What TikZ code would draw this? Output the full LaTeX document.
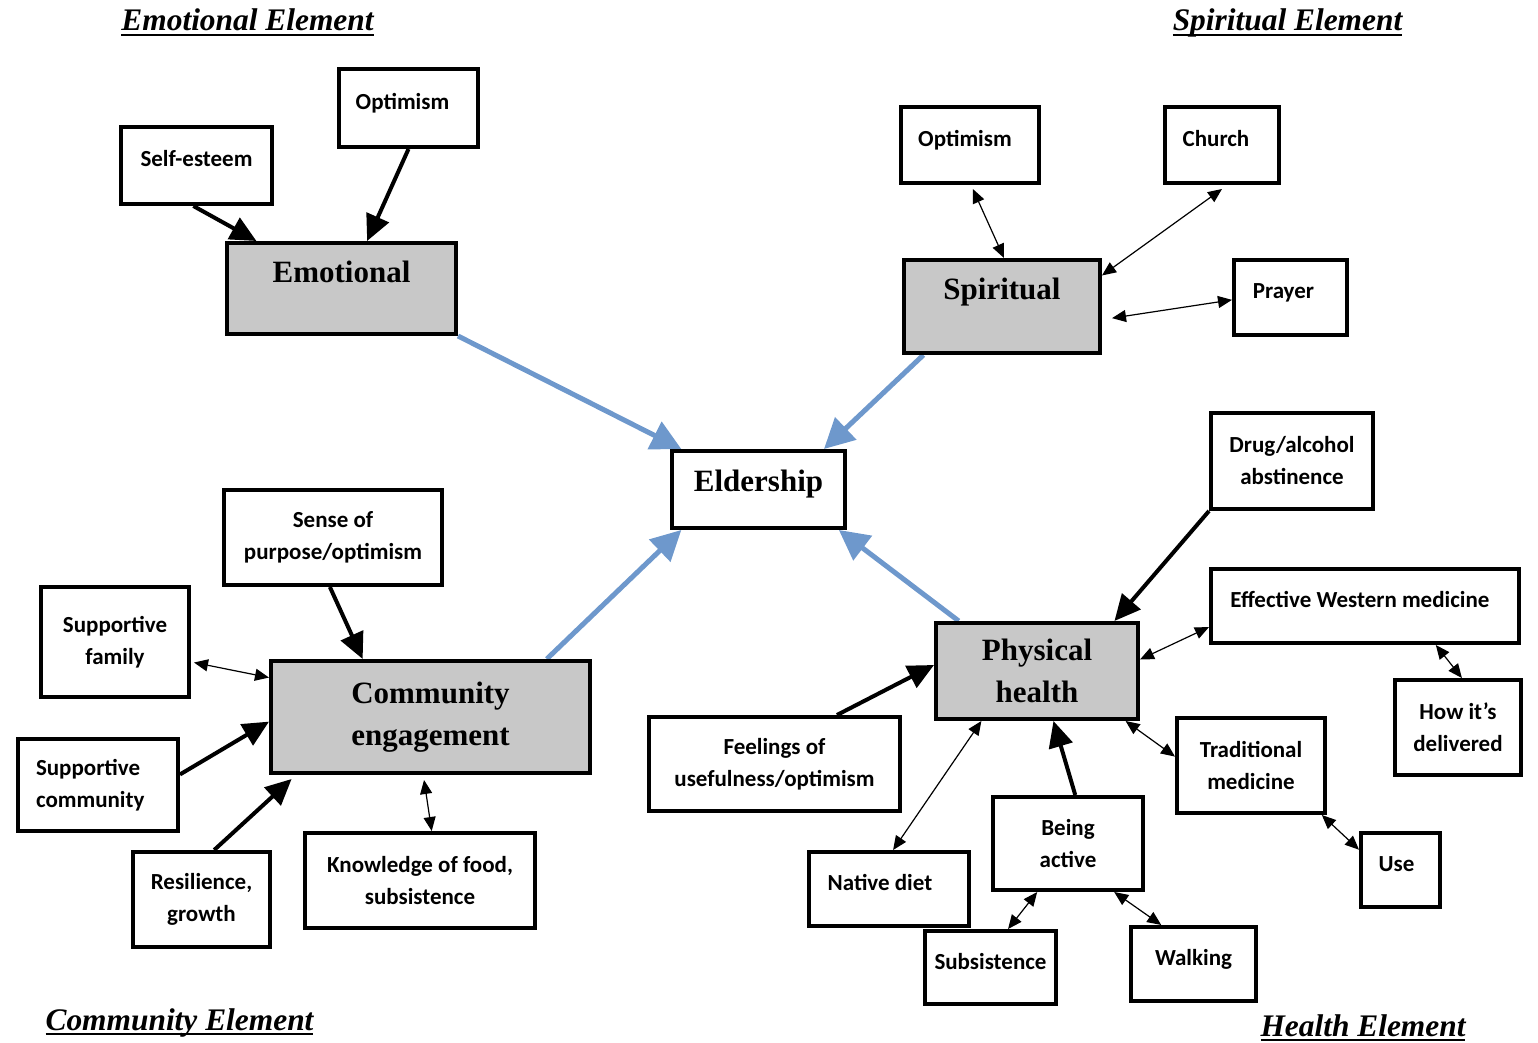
\documentclass[tikz,border=0pt]{standalone}
\usepackage{fontspec}
\setmainfont{Liberation Serif}
\newfontfamily\calfont{Carlito}
\usetikzlibrary{arrows.meta,calc,backgrounds}
\definecolor{boxgray}{RGB}{200,200,200}
\definecolor{arrowblue}{RGB}{110,152,204}
\newcommand\myul[1]{\setbox0\hbox{#1}\rlap{\rule[-2.6pt]{\wd0}{0.9pt}}\box0}
\newcommand\shiftl[2]{\hspace*{-#1}#2\hspace*{#1}}
\begin{document}
\begin{tikzpicture}[x=0.5pt,y=-0.5pt,
  smallbox/.style={draw, line width=2pt, fill=white, inner sep=0pt, font=\calfont\bfseries\fontsize{11.5}{16}\selectfont, align=center},
  onel/.style={text height=8pt, text depth=6.5pt},
  bigbox/.style={draw, line width=2pt, fill=boxgray, inner sep=0pt, font=\bfseries\fontsize{15.5}{21}\selectfont, align=center},
  eldbox/.style={bigbox, fill=white, text height=10pt, text depth=8.5pt},
  title/.style={font=\bfseries\itshape\fontsize{15.7}{18}\selectfont, anchor=base, inner sep=0pt},
  thickarrow/.style={line width=2pt, -{Triangle[length=13pt,width=12pt]}},
  thinarrow/.style={line width=0.6pt, {Triangle[length=7pt,width=6pt]}-{Triangle[length=7pt,width=6pt]}},
  bluearrow/.style={line width=2.5pt, arrowblue, -{Triangle[length=15pt,width=15pt]}},
]
\useasboundingbox (0,0) rectangle (1538,1043);

% titles
\node[title] (t1) at (247.5,31) {\myul{Emotional Element}};
\node[title] (t2) at (1287.5,31) {\myul{Spiritual Element}};
\node[title] (t3) at (179.5,1030) {\myul{Community Element}};
\node[title] (t4) at (1363,1036) {\myul{Health Element}};

% emotional
\node[smallbox,onel,minimum width=75.5pt,minimum height=38.5pt] (se) at (196.5,165.5) {Self-esteem};
\node[smallbox,onel,minimum width=69.5pt,minimum height=39pt] (opt1) at (408.5,108) {\shiftl{3pt}{Optimism}};
\node[bigbox,text height=10pt,text depth=15.5pt,minimum width=114.5pt,minimum height=45.5pt] (emo) at (341.5,288.5) {Emotional};

% spiritual
\node[smallbox,onel,minimum width=69pt,minimum height=38pt] (opt2) at (970,145) {\shiftl{2.5pt}{Optimism}};
\node[smallbox,onel,minimum width=57pt,minimum height=38pt] (church) at (1222,145) {\shiftl{3pt}{Church}};
\node[bigbox,text height=10pt,text depth=16.5pt,minimum width=98pt,minimum height=46.5pt] (spi) at (1002,306.5) {Spiritual};
\node[smallbox,onel,minimum width=56.5pt,minimum height=37.5pt] (prayer) at (1290.5,297.5) {\shiftl{3.5pt}{Prayer}};

% center
\node[eldbox,minimum width=86.5pt,minimum height=38.5pt] (eld) at (758.5,489.5) {Eldership};

% health
\node[smallbox,minimum width=81pt,minimum height=48pt] (drug) at (1292,461) {Drug/alcohol\\abstinence};
\node[smallbox,onel,minimum width=154pt,minimum height=37pt] (west) at (1365,606) {\shiftl{2.5pt}{Effective Western medicine}};
\node[smallbox,minimum width=63pt,minimum height=47.5pt] (how) at (1458,727.5) {How it’s\\delivered};
\node[bigbox,minimum width=101pt,minimum height=48pt] (phys) at (1037,671) {Physical\\health};
\node[smallbox,minimum width=125.5pt,minimum height=47pt] (feel) at (774.5,764) {Feelings of\\usefulness/optimism};
\node[smallbox,minimum width=74pt,minimum height=47.5pt] (trad) at (1251,765.5) {Traditional\\medicine};
\node[smallbox,onel,minimum width=39.5pt,minimum height=37pt] (use) at (1400.5,870) {\shiftl{2pt}{Use}};
\node[smallbox,minimum width=75pt,minimum height=46.5pt] (being) at (1068,843.5) {Being\\active};
\node[smallbox,onel,minimum width=80pt,minimum height=37pt] (native) at (889,889) {\shiftl{4.5pt}{Native diet}};
\node[smallbox,onel,minimum width=65.5pt,minimum height=36.5pt] (subs) at (990.5,967.5) {Subsistence};
\node[smallbox,onel,minimum width=62.5pt,minimum height=37pt] (walk) at (1193.5,964) {Walking};

% community
\node[smallbox,minimum width=109pt,minimum height=47.5pt] (sense) at (333,537.5) {Sense of\\purpose/optimism};
\node[smallbox,minimum width=74pt,minimum height=55pt] (fam) at (115,642) {Supportive\\family};
\node[bigbox,minimum width=159.5pt,minimum height=56pt] (comm) at (430.5,717) {Community\\engagement};
\node[smallbox,align=left,text width=62pt,minimum width=80pt,minimum height=46pt] (scomm) at (98,785) {Supportive\\community};
\node[smallbox,minimum width=68.5pt,minimum height=47.5pt] (res) at (201.5,899.5) {Resilience,\\growth};
\node[smallbox,minimum width=115pt,minimum height=47.5pt] (know) at (420,880.5) {Knowledge of food,\\subsistence};

\begin{pgfonlayer}{background}
% emotional
\draw[thickarrow] ($(se.south west)!0.48!(se.south east)$) -- ($(emo.north west)!0.135!(emo.north east)$);
\draw[thickarrow] ($(opt1.south west)!0.5!(opt1.south east)$) -- ($(emo.north west)!0.61!(emo.north east)$);
% blue
\draw[bluearrow] (emo.south east) -- ($(eld.north west)!0.064!(eld.north east)$);
\draw[bluearrow] ($(spi.south west)!0.107!(spi.south east)$) -- ($(eld.north west)!0.87!(eld.north east)$);
\draw[bluearrow] ($(comm.north west)!0.86!(comm.north east)$) -- ($(eld.south west)!0.064!(eld.south east)$);
\draw[bluearrow] ($(phys.north west)!0.12!(phys.north east)$) -- ($(eld.south west)!0.954!(eld.south east)$);
% spiritual
\draw[thinarrow] ($(opt2.south west)!0.52!(opt2.south east)+(0,4)$) -- ($(spi.north west)!0.51!(spi.north east)$);
\draw[thinarrow] ($(church.south west)!0.5!(church.south east)+(0,4)$) -- ($(spi.north east)!0.18!(spi.south east)$);
\draw[thinarrow] ($(prayer.north west)!0.53!(prayer.south west)$) -- ($(spi.north east)!0.62!(spi.south east)+(10,0)$);
% community
\draw[thickarrow] ($(sense.south west)!0.486!(sense.south east)$) -- ($(comm.north west)!0.29!(comm.north east)$);
\draw[thinarrow] ($(fam.north east)!0.68!(fam.south east)+(3,0)$) -- ($(comm.north west)!0.16!(comm.south west)$);
\draw[thickarrow] ($(scomm.north east)!0.39!(scomm.south east)$) -- ($(comm.north west)!0.54!(comm.south west)$);
\draw[thickarrow] ($(res.north west)!0.59!(res.north east)$) -- ($(comm.south west)!0.07!(comm.south east)+(0,4)$);
\draw[thinarrow] ($(know.north west)!0.55!(know.north east)$) -- ($(comm.south west)!0.48!(comm.south east)+(0,5)$);
% health
\draw[thickarrow] (drug.south west) -- ($(phys.north west)!0.876!(phys.north east)$);
\draw[thinarrow] ($(west.north west)!0.77!(west.south west)$) -- ($(phys.north east)!0.385!(phys.south east)$);
\draw[thinarrow] ($(west.south west)!0.727!(west.south east)$) -- ($(how.north west)!0.53!(how.north east)$);
\draw[thickarrow] ($(feel.north west)!0.745!(feel.north east)$) -- ($(phys.north west)!0.44!(phys.south west)$);
\draw[thinarrow] ($(native.north west)!0.525!(native.north east)$) -- ($(phys.south west)!0.23!(phys.south east)$);
\draw[thickarrow] ($(being.north west)!0.547!(being.north east)$) -- ($(phys.south west)!0.58!(phys.south east)$);
\draw[thinarrow] ($(phys.south west)!0.93!(phys.south east)$) -- ($(trad.north west)!0.41!(trad.south west)$);
\draw[thinarrow] ($(trad.south west)!0.966!(trad.south east)$) -- ($(use.north west)!0.24!(use.south west)$);
\draw[thinarrow] ($(being.south west)!0.3!(being.south east)$) -- ($(subs.north west)!0.63!(subs.north east)$);
\draw[thinarrow] ($(being.south west)!0.8!(being.south east)$) -- ($(walk.north west)!0.25!(walk.north east)$);
\end{pgfonlayer}
\end{tikzpicture}
\end{document}
